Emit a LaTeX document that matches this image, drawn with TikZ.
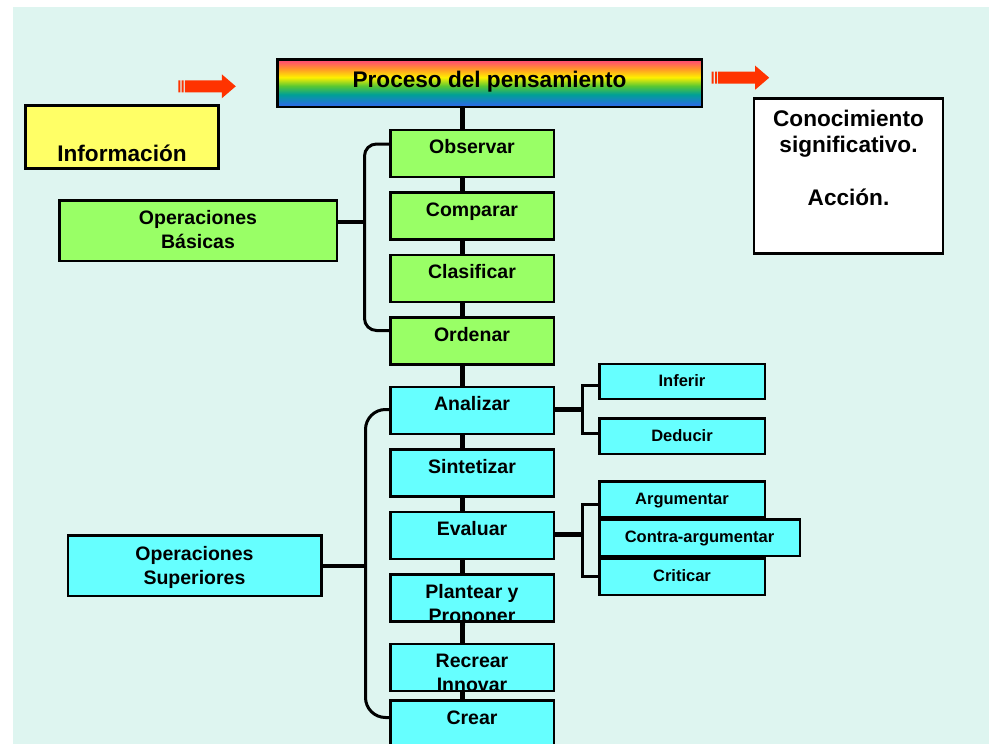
\documentclass[tikz,border=0pt]{standalone}
\usepackage{fontspec}
\setmainfont{Liberation Sans}
\usetikzlibrary{positioning}

\definecolor{fondo}{RGB}{222,245,240}
\definecolor{verdeclaro}{RGB}{153,255,102}
\definecolor{celeste}{RGB}{102,255,255}
\definecolor{amarillo}{RGB}{255,255,102}
\definecolor{rojo}{RGB}{255,51,0}
\definecolor{rbazul}{RGB}{40,110,225}
\definecolor{rbteal}{RGB}{0,160,150}
\definecolor{rbverde}{RGB}{90,200,50}
\definecolor{rbamarillo}{RGB}{255,240,0}
\definecolor{rbnaranja}{RGB}{255,150,40}
\definecolor{rbrosa}{RGB}{255,80,110}
\pgfdeclareverticalshading{arcoiris}{100bp}{color(0bp)=(rbazul); color(27bp)=(rbazul);
  color(38bp)=(rbteal); color(47bp)=(rbverde); color(56bp)=(rbamarillo);
  color(65bp)=(rbnaranja); color(73bp)=(rbrosa); color(100bp)=(rbrosa)}

% texto sin altura, primera linea en el centro de la caja
\newcommand\rotulo[2][0pt]{\raisebox{#1}[0pt][0pt]{\begin{tabular}[t]{@{}c@{}}#2\end{tabular}}}

\begin{document}
\begin{tikzpicture}[x=1pt,y=-1pt]

\tikzset{caja/.style={draw=black, line width=2.5pt, inner sep=0pt,
           font=\bfseries\fontsize{19.5}{24}\selectfont},
         grande/.style={caja, font=\bfseries\fontsize{22.6}{26.5}\selectfont},
         chica/.style={caja, fill=celeste, minimum width=165.5pt,
           font=\bfseries\fontsize{16.5}{20}\selectfont},
         verde/.style={caja, fill=verdeclaro, minimum width=163.5pt, minimum height=47pt},
         azul/.style={caja, fill=celeste, minimum width=163.5pt, minimum height=47pt},
         eje/.style={line width=5pt},
         llave/.style={line width=3pt},
         brazo/.style={line width=4.5pt},
         flecha/.pic={
           \fill[rojo] (0,-6) rectangle (2,6) (3.3,-6) rectangle (5.3,6)
             (6.5,-6) -- (43.5,-6) -- (43.5,-12) -- (57.5,0) -- (43.5,12)
             -- (43.5,6) -- (6.5,6) -- cycle;
         }}

\clip (0,0) rectangle (989,744);
\fill[white] (0,0) rectangle (989,744);
\fill[fondo] (13,7) rectangle (989,744);

\node[grande, shading=arcoiris, minimum width=424.5pt, minimum height=47.5pt]
  (titulo) at (489.5,83) {\rotulo[-4pt]{Proceso del pensamiento}};
\node[grande, fill=amarillo, minimum width=193pt, minimum height=63pt]
  (info) at (122,137) {\rotulo[-24pt]{Información}};
\node[grande, fill=white, minimum width=189pt, minimum height=155pt]
  (conoc) at (848.5,176) {\rotulo[50pt]{Conocimiento\\significativo.\\ \\Acción.}};

\pic at (178.3,86.3) {flecha};
\pic at (711.7,77.7) {flecha};

% operaciones basicas
\node[verde] (observar) at (472,153.5) {\rotulo{Observar}};
\node[verde, below=13pt of observar] (comparar) {\rotulo{Comparar}};
\node[verde, below=13pt of comparar] (clasificar) {\rotulo{Clasificar}};
\node[verde, below=13pt of clasificar] (ordenar) {\rotulo{Ordenar}};
\node[caja, fill=verdeclaro, minimum width=277.5pt, minimum height=60.5pt]
  (basicas) at (198,230.5) {\rotulo[6.5pt]{Operaciones\\Básicas}};

% operaciones superiores
\node[azul, below=20pt of ordenar] (analizar) {\rotulo{Analizar}};
\node[azul, below=13pt of analizar] (sintetizar) {\rotulo{Sintetizar}};
\node[azul, below=13pt of sintetizar] (evaluar) {\rotulo{Evaluar}};
\node[azul, below=13pt of evaluar] (plantear) {\rotulo{Plantear y\\Proponer}};
\node[azul, below=20pt of plantear] (recrear) {\rotulo{Recrear\\Innovar}};
\node[azul, below=7pt of recrear] (crear) {\rotulo{Crear}};
\node[caja, fill=celeste, minimum width=253.5pt, minimum height=60.5pt]
  (superiores) at (194.5,565.5) {\rotulo[5.5pt]{Operaciones\\Superiores}};

\node[chica, minimum height=35pt] (inferir) at (682,381.5) {\rotulo[-5pt]{Inferir}};
\node[chica, minimum height=35.5pt] (deducir) at (682,436) {\rotulo[-5pt]{Deducir}};
\node[chica, minimum height=35.5pt] (argumentar) at (682,499) {\rotulo[-5pt]{Argumentar}};
\node[chica, minimum height=36.5pt] (criticar) at (682,576.5) {\rotulo[-5pt]{Criticar}};
\node[chica, minimum width=200.5pt, minimum height=36.5pt]
  (contra) at (699.5,537.5) {\rotulo[-5pt]{Contra-argumentar}};

% eje central
\coordinate (eje) at (462,0);
\draw[eje] (titulo.south -| eje) -- (observar.north -| eje);
\draw[eje] (observar.south -| eje) -- (comparar.north -| eje);
\draw[eje] (comparar.south -| eje) -- (clasificar.north -| eje);
\draw[eje] (clasificar.south -| eje) -- (ordenar.north -| eje);
\draw[eje] (ordenar.south -| eje) -- (analizar.north -| eje);
\draw[eje] (analizar.south -| eje) -- (sintetizar.north -| eje);
\draw[eje] (sintetizar.south -| eje) -- (evaluar.north -| eje);
\draw[eje] (evaluar.south -| eje) -- (plantear.north -| eje);
\draw[eje] (plantear.south -| eje) -- (recrear.north -| eje);
\draw[eje] (recrear.south -| eje) -- (crear.north -| eje);

% llaves
\coordinate (lb) at (364.5,222);
\draw[llave, rounded corners=12pt] ([yshift=9.5pt]observar.west) -| (lb)
  |- ([yshift=10.5pt]ordenar.west);
\draw[brazo] (basicas.east |- lb) -- (lb);

\coordinate (ls) at (365.5,566);
\draw[llave, rounded corners=20pt] ([yshift=1pt]analizar.west) -| (ls)
  |- ([yshift=6.5pt]crear.west);
\draw[brazo] (superiores.east |- ls) -- (ls);

\coordinate (la) at (582.5,409.5);
\draw[llave] ([yshift=-3.5pt]inferir.west) -| (la) |- ([yshift=3pt]deducir.west);
\draw[brazo] (analizar.east |- la) -- (la);

\coordinate (le) at (582.5,534.5);
\draw[llave] ([yshift=-5pt]argumentar.west) -| (le) |- (criticar.west);
\draw[brazo] (evaluar.east |- le) -- (le);

\end{tikzpicture}
\end{document}
